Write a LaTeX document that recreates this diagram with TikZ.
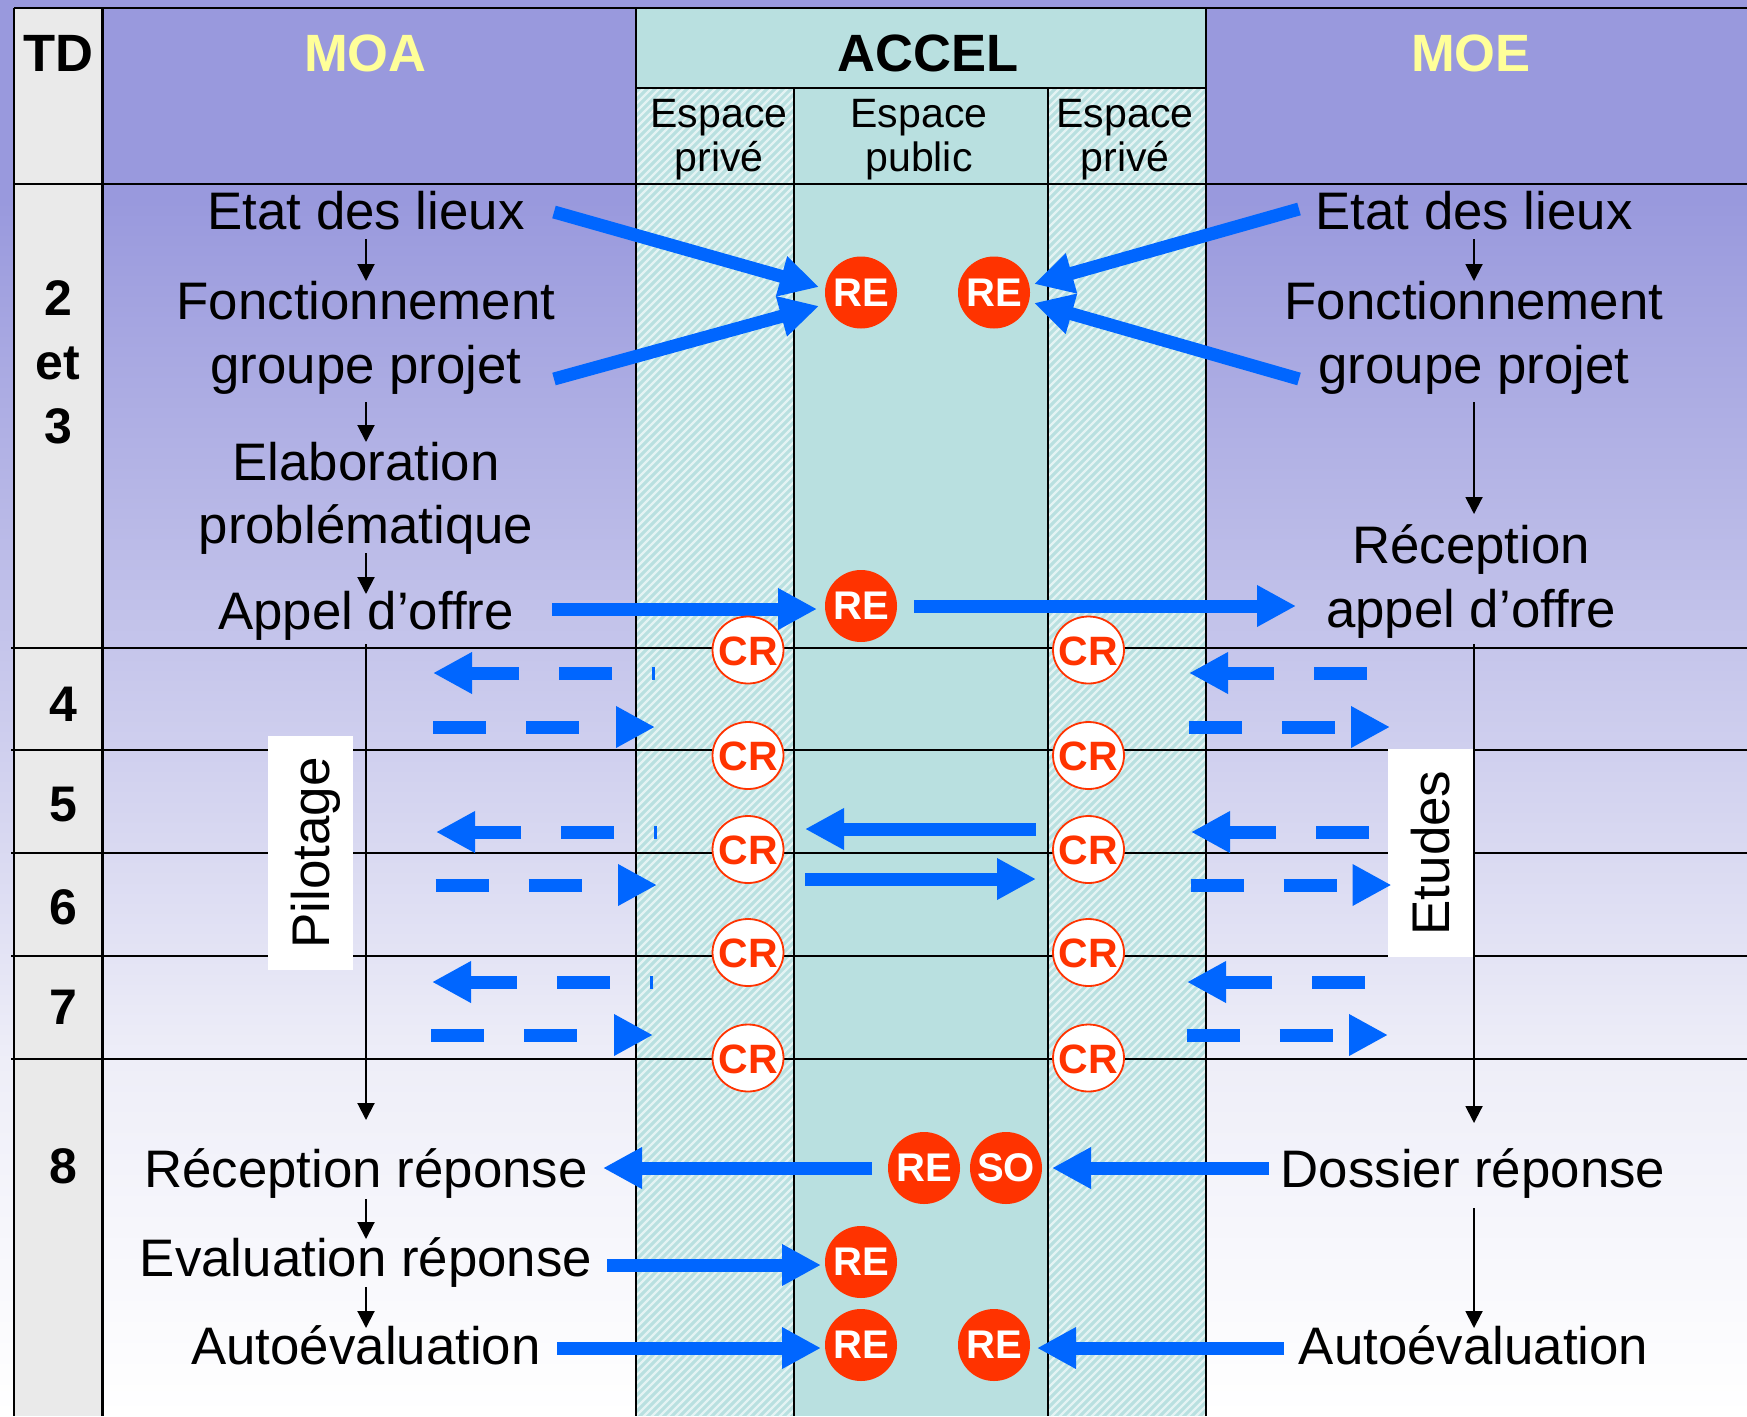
\documentclass[tikz,border=0pt]{standalone}
\usepackage{fontspec}
\setmainfont{Liberation Sans}
\usetikzlibrary{arrows.meta,shapes.geometric}
\definecolor{hdr}{HTML}{9999DD}
\definecolor{mid}{HTML}{EEEEF8}
\definecolor{teal}{HTML}{B9E0E0}
\definecolor{hatchc}{HTML}{E4F3F3}
\definecolor{blu}{HTML}{0066FF}
\definecolor{redo}{HTML}{FF3300}
\definecolor{yel}{HTML}{FFFF99}
\definecolor{tdg}{HTML}{EAEAEA}
\newcommand{\crtext}{\raisebox{-1pt}[\height][\depth]{\makebox[0pt]{CR}}}
\tikzset{
 x=1pt,y=-1pt,
 txt/.style={anchor=base,inner sep=0pt,font=\fontsize{52.8}{60}\selectfont},
 head/.style={anchor=base,inner sep=0pt,font=\fontsize{52.5}{60}\selectfont\bfseries},
 num/.style={anchor=base,inner sep=0pt,font=\fontsize{50}{60}\selectfont\bfseries},
 small/.style={anchor=base,inner sep=0pt,font=\fontsize{41}{46}\selectfont},
 rebub/.style={circle,fill=redo,inner sep=0pt,minimum size=72pt,text=white,font=\fontsize{40}{40}\selectfont\bfseries},
 crbub/.style={ellipse,draw=redo,line width=1.8pt,fill=white,inner sep=0pt,minimum width=71pt,minimum height=67pt,text=redo,font=\fontsize{41}{40}\selectfont\bfseries},
 bigarrow/.style={draw=blu,line width=13pt,-{Triangle[length=39pt,width=39pt]}},
 dasharrow/.style={bigarrow,dash pattern=on 53pt off 40pt},
 backdash/.style={bigarrow,dash pattern=on 53pt off 40pt,dash phase=50pt},
 thin arrow/.style={draw=black,line width=2pt,-{Triangle[length=17pt,width=17pt]}},
 rule/.style={line width=2.2pt,black},
 sidebox/.style={fill=white,inner sep=0pt,rotate=90,font=\fontsize{53}{60}\selectfont},
}
\begin{document}
\begin{tikzpicture}
\useasboundingbox (0,0) rectangle (1747,1416);
% background
\fill[hdr] (0,0) rectangle (1747,201);
\shade[top color=hdr,bottom color=mid] (0,200) rectangle (1747,1060);
\shade[top color=mid,bottom color=white] (0,1059.5) rectangle (1747,1416);
% TD column
\fill[tdg] (14,8) rectangle (102,1416);
% centre columns
\fill[teal] (636,8) rectangle (1206,1416);
\begin{scope}
 \clip (636,88) rectangle (794,1416) (1048,88) rectangle (1206,1416);
 \foreach \k in {0,8,...,2100}{
   \draw[hatchc,line width=2.4pt] (620+\k,80) -- (620+\k-1400,1480);
 }
\end{scope}
% rules
\draw[rule] (14,8) -- (1747,8);
\draw[rule] (14,184) -- (1747,184);
\draw[rule] (636,88) -- (1206,88);
\foreach \y in {648,750,853,956,1059}{\draw[rule] (11,\y) -- (1747,\y);}
\draw[rule] (14,8) -- (14,1416);
\draw[rule] (102.5,8) -- (102.5,1416);
\draw[line width=2.8pt] (636,8) -- (636,1416);
\draw[rule] (794,88) -- (794,1416);
\draw[rule] (1048,88) -- (1048,1416);
\draw[line width=2.8pt] (1206,8) -- (1206,1416);
% headers
\node[head] (td) at (58,71.5) {TD};
\node[head,text=yel] (moa) at (365.5,71.5) {MOA};
\node[head] (accel) at (928,71.5) {ACCEL};
\node[head,text=yel] (moe) at (1471,71.5) {MOE};
\node[small] (ep1a) at (719,127) {Espace};
\node[small] (ep1b) at (719,171) {privé};
\node[small] (ep2a) at (919,127) {Espace};
\node[small] (ep2b) at (919,171) {public};
\node[small] (ep3a) at (1125,127) {Espace};
\node[small] (ep3b) at (1125,171) {privé};
% TD numbers
\node[num] (n2) at (58,315) {2};
\node[num] (net) at (58,379) {et};
\node[num] (n3) at (58,443) {3};
\node[num] (n4) at (63.5,721) {4};
\node[num] (n5) at (63.5,821) {5};
\node[num] (n6) at (63.5,924) {6};
\node[num] (n7) at (63.5,1024) {7};
\node[num] (n8) at (63.5,1183) {8};
% left texts
\node[txt] (l1) at (366,229) {Etat des lieux};
\node[txt] (l2) at (366,319) {Fonctionnement};
\node[txt] (l3) at (366,383) {groupe projet};
\node[txt] (l4) at (366,480) {Elaboration};
\node[txt] (l5) at (366,543) {problématique};
\node[txt] (l6) at (366,629) {Appel d’offre};
\node[txt] (l7) at (366,1187) {Réception réponse};
\node[txt] (l8) at (366,1276) {Evaluation réponse};
\node[txt] (l9) at (366,1364) {Autoévaluation};
% right texts
\node[txt] (r1) at (1474,229) {Etat des lieux};
\node[txt] (r2) at (1474,319) {Fonctionnement};
\node[txt] (r3) at (1474,383) {groupe projet};
\node[txt] (r4) at (1471,563) {Réception};
\node[txt] (r5) at (1471,627) {appel d’offre};
\node[txt] (r6) at (1473,1187) {Dossier réponse};
\node[txt] (r7) at (1473.5,1364) {Autoévaluation};
% thin arrows
\foreach \n/\xa/\ya/\yb in {a/366/239/281,b/366/402/442,c/366/553/594,d/366/644/1120,e/366/1199/1239,f/366/1287/1328,g/1474/239/281,h/1474/402/514,i/1474/644/1123,j/1474/1208/1328}{
  \coordinate (\n s) at (\xa,\ya);
  \coordinate (\n e) at (\xa,\yb);
  \draw[thin arrow] (\n s) -- (\n e);
}
% side boxes
\node[sidebox,minimum width=234pt,minimum height=85pt] (pil) at (310.5,853) {\raisebox{-5pt}[\height][\depth]{Pilotage}};
\node[sidebox,minimum width=208pt,minimum height=85pt] (etu) at (1430.5,853) {Etudes};
% solid big arrows
\foreach \n/\xa/\ya/\xb/\yb in {p/554/212/819/287,q/554/379/819/306,r/1299/209/1034/284,s/1299/379/1034/303,t/552/609/817/609,u/914/606/1296/606,v/872/1168/603/1168,w/1269/1168/1052/1168,x/607/1265/821/1265,y/557/1348/821/1348,z/1284/1348/1037/1348,m/1036/829/805/829,o/805/879/1036/879}{
  \coordinate (\n s) at (\xa,\ya);
  \coordinate (\n e) at (\xb,\yb);
  \draw[bigarrow] (\n s) -- (\n e);
}
% dashed: towards the left
\foreach \n/\xa/\xb/\yy in {la/655/433/673,lb/657/436/832,lc/653/432/982}{
  \coordinate (\n s) at (\xa,\yy);
  \coordinate (\n e) at (\xb,\yy);
  \draw[backdash] (\n s) -- (\n e);
}
\foreach \n/\xa/\xb/\yy in {ra/1367/1189/673,rb/1369/1191/832,rc/1365/1187/982}{
  \coordinate (\n s) at (\xa,\yy);
  \coordinate (\n e) at (\xb,\yy);
  \draw[dasharrow] (\n s) -- (\n e);
}
% dashed: towards the right
\foreach \n/\xa/\xb/\yy in {da/433/655/727,db/435.5/657/885,dc/431/653/1035,ea/1189/1390/727,eb/1190.5/1391.5/885,ec/1186.5/1388/1035}{
  \coordinate (\n s) at (\xa,\yy);
  \coordinate (\n e) at (\xb,\yy);
  \draw[dasharrow] (\n s) -- (\n e);
}
% bubbles
\node[rebub] (re1) at (861,292.5) {RE};
\node[rebub] (re2) at (994,292.5) {RE};
\node[rebub] (re3) at (861,606) {RE};
\node[rebub] (re4) at (924,1168) {RE};
\node[rebub] (so) at (1006,1168) {SO};
\node[rebub] (re5) at (861,1262) {RE};
\node[rebub] (re6) at (861,1345) {RE};
\node[rebub] (re7) at (994,1345) {RE};
\foreach \n/\yy in {a/650,b/755.5,c/849.5,d/952.5,e/1058}{
  \node[crbub] (crl\n) at (748,\yy) {\crtext};
  \node[crbub] (crr\n) at (1088.5,\yy) {\crtext};
}
\end{tikzpicture}
\end{document}
